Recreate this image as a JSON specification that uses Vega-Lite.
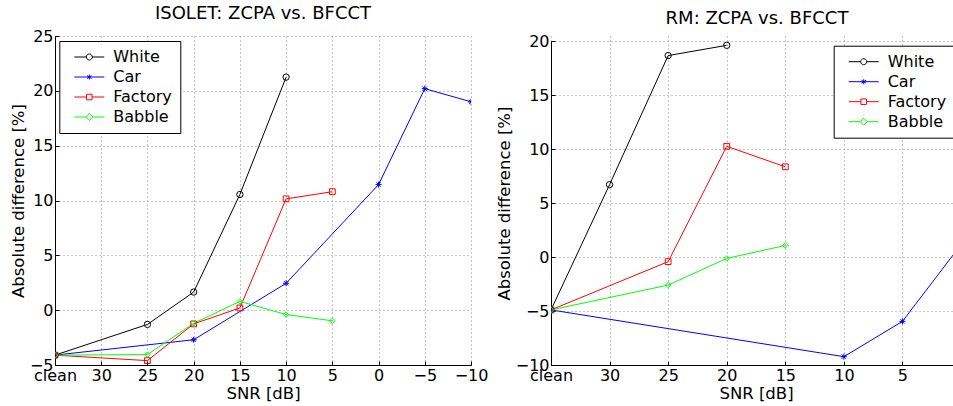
{
  "$schema": "https://vega.github.io/schema/vega-lite/v6.json",
  "background": "white",
  "padding": {"left": 10, "top": 5, "right": 0, "bottom": 0},
  "autosize": {"type": "pad"},
  "config": {
    "font": "DejaVu Sans",
    "view": {"stroke": null},
    "axis": {
      "domainColor": "black", "domainWidth": 1,
      "tickColor": "black", "tickSize": -4, "tickWidth": 1,
      "labelPadding": 6, "labelFont": "DejaVu Sans", "labelFontSize": 16, "labelColor": "black",
      "labelOverlap": false, "labelFlush": false,
      "titleFont": "DejaVu Sans", "titleFontSize": 16.5, "titleFontWeight": "normal", "titleColor": "black",
      "grid": true, "gridColor": "#8c8c8c", "gridDash": [1, 3], "gridWidth": 1
    },
    "title": {"font": "DejaVu Sans", "fontSize": 18, "fontWeight": "normal", "color": "black"}
  },
  "data": {
    "values": [
      {"panel": "ISOLET", "series": "White", "snr": 35, "diff": -4.1},
      {"panel": "ISOLET", "series": "White", "snr": 25, "diff": -1.3},
      {"panel": "ISOLET", "series": "White", "snr": 20, "diff": 1.65},
      {"panel": "ISOLET", "series": "White", "snr": 15, "diff": 10.55},
      {"panel": "ISOLET", "series": "White", "snr": 10, "diff": 21.25},
      {"panel": "ISOLET", "series": "Car", "snr": 35, "diff": -4.1},
      {"panel": "ISOLET", "series": "Car", "snr": 20, "diff": -2.7},
      {"panel": "ISOLET", "series": "Car", "snr": 10, "diff": 2.45},
      {"panel": "ISOLET", "series": "Car", "snr": 0, "diff": 11.45},
      {"panel": "ISOLET", "series": "Car", "snr": -5, "diff": 20.2},
      {"panel": "ISOLET", "series": "Car", "snr": -10, "diff": 19.0},
      {"panel": "ISOLET", "series": "Factory", "snr": 35, "diff": -4.1},
      {"panel": "ISOLET", "series": "Factory", "snr": 25, "diff": -4.6},
      {"panel": "ISOLET", "series": "Factory", "snr": 20, "diff": -1.25},
      {"panel": "ISOLET", "series": "Factory", "snr": 15, "diff": 0.2},
      {"panel": "ISOLET", "series": "Factory", "snr": 10, "diff": 10.15},
      {"panel": "ISOLET", "series": "Factory", "snr": 5, "diff": 10.8},
      {"panel": "ISOLET", "series": "Babble", "snr": 35, "diff": -4.1},
      {"panel": "ISOLET", "series": "Babble", "snr": 25, "diff": -4.05},
      {"panel": "ISOLET", "series": "Babble", "snr": 20, "diff": -1.2},
      {"panel": "ISOLET", "series": "Babble", "snr": 15, "diff": 0.8},
      {"panel": "ISOLET", "series": "Babble", "snr": 10, "diff": -0.4},
      {"panel": "ISOLET", "series": "Babble", "snr": 5, "diff": -0.97},
      {"panel": "RM", "series": "White", "snr": 35, "diff": -4.9},
      {"panel": "RM", "series": "White", "snr": 30, "diff": 6.7},
      {"panel": "RM", "series": "White", "snr": 25, "diff": 18.65},
      {"panel": "RM", "series": "White", "snr": 20, "diff": 19.6},
      {"panel": "RM", "series": "Car", "snr": 35, "diff": -4.9},
      {"panel": "RM", "series": "Car", "snr": 10, "diff": -9.23},
      {"panel": "RM", "series": "Car", "snr": 5, "diff": -5.96},
      {"panel": "RM", "series": "Car", "snr": 0, "diff": 1.15},
      {"panel": "RM", "series": "Factory", "snr": 35, "diff": -4.9},
      {"panel": "RM", "series": "Factory", "snr": 25, "diff": -0.43},
      {"panel": "RM", "series": "Factory", "snr": 20, "diff": 10.25},
      {"panel": "RM", "series": "Factory", "snr": 15, "diff": 8.35},
      {"panel": "RM", "series": "Babble", "snr": 35, "diff": -4.9},
      {"panel": "RM", "series": "Babble", "snr": 25, "diff": -2.6},
      {"panel": "RM", "series": "Babble", "snr": 20, "diff": -0.13},
      {"panel": "RM", "series": "Babble", "snr": 15, "diff": 1.07}
    ]
  },
  "bounds": "flush",
  "spacing": 80,
  "hconcat": [
    {
      "width": 416,
      "height": 329,
      "title": {"text": "ISOLET: ZCPA vs. BFCCT", "offset": 5},
      "transform": [{"filter": "datum.panel == 'ISOLET'"}],
      "encoding": {
        "x": {
          "field": "snr", "type": "quantitative",
          "scale": {"domain": [35, -10], "nice": false, "zero": false},
          "axis": {"values": [35, 30, 25, 20, 15, 10, 5, 0, -5, -10], "labelExpr": "datum.value == 35 ? 'clean' : datum.label", "title": "SNR [dB]", "titlePadding": 2}
        },
        "y": {
          "field": "diff", "type": "quantitative",
          "scale": {"domain": [-5, 25], "nice": false, "zero": false},
          "axis": {"values": [-5, 0, 5, 10, 15, 20, 25], "title": "Absolute difference [%]", "titlePadding": 3}
        }
      },
      "layer": [
        {
          "mark": {"type": "line", "strokeWidth": 1, "clip": true},
          "encoding": {
            "color": {"field": "series", "type": "nominal", "scale": {"domain": ["White", "Car", "Factory", "Babble"], "range": ["#000000", "#0000ff", "#ff0000", "#00ff00"]}, "legend": null}
          }
        },
        {
          "mark": {"type": "point", "filled": false, "strokeWidth": 1, "opacity": 1, "clip": true},
          "encoding": {
            "color": {"field": "series", "type": "nominal", "scale": {"domain": ["White", "Car", "Factory", "Babble"], "range": ["#000000", "#0000ff", "#ff0000", "#00ff00"]}, "legend": null},
            "shape": {"field": "series", "type": "nominal", "scale": {"domain": ["White", "Car", "Factory", "Babble"], "range": ["circle", "M-1,0L1,0M0,-1L0,1M-0.7,-0.7L0.7,0.7M-0.7,0.7L0.7,-0.7", "square", "diamond"]}, "legend": null},
            "size": {"field": "series", "type": "nominal", "scale": {"domain": ["White", "Car", "Factory", "Babble"], "range": [40, 30, 30, 64]}, "legend": null}
          }
        },
        {
          "mark": {"type": "point", "filled": false, "size": 0, "strokeWidth": 0, "opacity": 1},
          "encoding": {
            "color": {"field": "series", "type": "nominal", "scale": {"domain": ["White", "Car", "Factory", "Babble"], "range": ["#000000", "#0000ff", "#ff0000", "#00ff00"]},
              "legend": {"orient": "none", "legendX": 4.3, "legendY": 5, "title": null, "padding": 8, "strokeColor": "black", "fillColor": "white", "labelFont": "DejaVu Sans", "labelFontSize": 16, "labelColor": "black", "symbolSize": 100, "symbolStrokeWidth": 1, "symbolOffset": 14, "labelOffset": 16, "rowPadding": 4}},
            "shape": {"field": "series", "type": "nominal", "scale": {"domain": ["White", "Car", "Factory", "Babble"], "range": [
              "M-3,0L-0.6,0M0.6,0L3,0M0.6,0A0.6,0.6,0,1,1,-0.6,0A0.6,0.6,0,1,1,0.6,0",
              "M-3,0L3,0M0,-0.5L0,0.5M-0.45,-0.3L0.45,0.3M-0.45,0.3L0.45,-0.3",
              "M-3,0L-0.55,0M0.55,0L3,0M-0.55,-0.55L0.55,-0.55L0.55,0.55L-0.55,0.55Z",
              "M-3,0L-0.7,0M0.7,0L3,0M0,-0.7L0.7,0L0,0.7L-0.7,0Z"]},
              "legend": {"orient": "none", "legendX": 4.3, "legendY": 5, "title": null, "padding": 8, "strokeColor": "black", "fillColor": "white", "labelFont": "DejaVu Sans", "labelFontSize": 16, "labelColor": "black", "symbolSize": 100, "symbolStrokeWidth": 1, "symbolOffset": 14, "labelOffset": 16, "rowPadding": 4}}
          }
        }
      ],
      "resolve": {"scale": {"color": "independent", "shape": "independent"}, "legend": {"color": "independent", "shape": "independent"}}
    },
    {
      "width": 403,
      "height": 329,
      "title": {"text": "RM: ZCPA vs. BFCCT", "offset": 5, "dx": 4.5},
      "transform": [{"filter": "datum.panel == 'RM'"}],
      "encoding": {
        "x": {
          "field": "snr", "type": "quantitative",
          "scale": {"domain": [35, 0.6], "nice": false, "zero": false},
          "axis": {"values": [35, 30, 25, 20, 15, 10, 5], "labelExpr": "datum.value == 35 ? 'clean' : datum.label", "title": "SNR [dB]", "titlePadding": 2, "titleX": 205}
        },
        "y": {
          "field": "diff", "type": "quantitative",
          "scale": {"domain": [-10, 20], "nice": false, "zero": false, "range": [329, 5]},
          "axis": {"values": [-10, -5, 0, 5, 10, 15, 20], "title": "Absolute difference [%]", "titlePadding": 3}
        }
      },
      "layer": [
        {
          "mark": {"type": "line", "strokeWidth": 1, "clip": true},
          "encoding": {
            "color": {"field": "series", "type": "nominal", "scale": {"domain": ["White", "Car", "Factory", "Babble"], "range": ["#000000", "#0000ff", "#ff0000", "#00ff00"]}, "legend": null}
          }
        },
        {
          "mark": {"type": "point", "filled": false, "strokeWidth": 1, "opacity": 1, "clip": true},
          "encoding": {
            "color": {"field": "series", "type": "nominal", "scale": {"domain": ["White", "Car", "Factory", "Babble"], "range": ["#000000", "#0000ff", "#ff0000", "#00ff00"]}, "legend": null},
            "shape": {"field": "series", "type": "nominal", "scale": {"domain": ["White", "Car", "Factory", "Babble"], "range": ["circle", "M-1,0L1,0M0,-1L0,1M-0.7,-0.7L0.7,0.7M-0.7,0.7L0.7,-0.7", "square", "diamond"]}, "legend": null},
            "size": {"field": "series", "type": "nominal", "scale": {"domain": ["White", "Car", "Factory", "Babble"], "range": [40, 30, 30, 64]}, "legend": null}
          }
        },
        {
          "mark": {"type": "point", "filled": false, "size": 0, "strokeWidth": 0, "opacity": 1},
          "encoding": {
            "color": {"field": "series", "type": "nominal", "scale": {"domain": ["White", "Car", "Factory", "Babble"], "range": ["#000000", "#0000ff", "#ff0000", "#00ff00"]},
              "legend": {"orient": "none", "legendX": 282.7, "legendY": 9.7, "title": null, "padding": 8, "strokeColor": "black", "fillColor": "white", "labelFont": "DejaVu Sans", "labelFontSize": 16, "labelColor": "black", "symbolSize": 100, "symbolStrokeWidth": 1, "symbolOffset": 14, "labelOffset": 16, "rowPadding": 4}},
            "shape": {"field": "series", "type": "nominal", "scale": {"domain": ["White", "Car", "Factory", "Babble"], "range": [
              "M-3,0L-0.6,0M0.6,0L3,0M0.6,0A0.6,0.6,0,1,1,-0.6,0A0.6,0.6,0,1,1,0.6,0",
              "M-3,0L3,0M0,-0.5L0,0.5M-0.45,-0.3L0.45,0.3M-0.45,0.3L0.45,-0.3",
              "M-3,0L-0.55,0M0.55,0L3,0M-0.55,-0.55L0.55,-0.55L0.55,0.55L-0.55,0.55Z",
              "M-3,0L-0.7,0M0.7,0L3,0M0,-0.7L0.7,0L0,0.7L-0.7,0Z"]},
              "legend": {"orient": "none", "legendX": 282.7, "legendY": 9.7, "title": null, "padding": 8, "strokeColor": "black", "fillColor": "white", "labelFont": "DejaVu Sans", "labelFontSize": 16, "labelColor": "black", "symbolSize": 100, "symbolStrokeWidth": 1, "symbolOffset": 14, "labelOffset": 16, "rowPadding": 4}}
          }
        }
      ],
      "resolve": {"scale": {"color": "independent", "shape": "independent"}, "legend": {"color": "independent", "shape": "independent"}}
    }
  ]
}
